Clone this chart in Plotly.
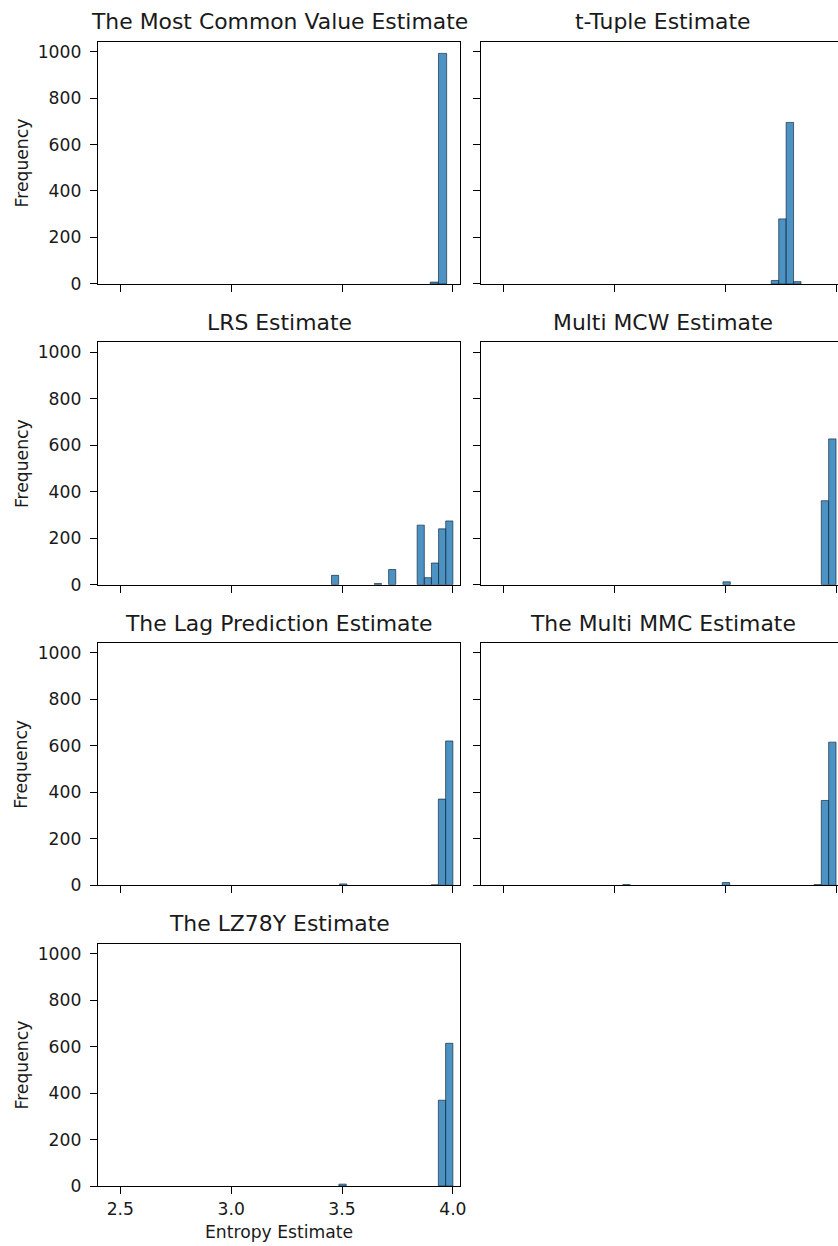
import plotly.graph_objects as go

# ---------------- data ----------------
titles = [
    "The Most Common Value Estimate",
    "t-Tuple Estimate",
    "LRS Estimate",
    "Multi MCW Estimate",
    "The Lag Prediction Estimate",
    "The Multi MMC Estimate",
    "The LZ78Y Estimate",
]

# bin left edges, counts and bin width for each panel
mcv_left = [3.898, 3.935]
mcv_counts = [8, 992]
mcv_width = 0.037

ttuple_left = [3.708, 3.7415, 3.775, 3.8085]
ttuple_counts = [15, 280, 695, 10]
ttuple_width = 0.0335

lrs_left = [3.4526, 3.6458, 3.7102, 3.8390, 3.8712, 3.9034, 3.9356, 3.9678]
lrs_counts = [40, 5, 65, 256, 30, 93, 240, 274]
lrs_width = 0.0322

mcw_left = [3.490, 3.9336, 3.9668]
mcw_counts = [12, 361, 627]
mcw_width = 0.0332

lag_left = [3.489, 3.9019, 3.9346, 3.9673]
lag_counts = [6, 2, 371, 621]
lag_width = 0.0327

mmc_left = [3.038, 3.487, 3.9004, 3.9336, 3.9668]
mmc_counts = [3, 12, 3, 365, 616]
mmc_width = 0.0332

lz_left = [3.486, 3.9346, 3.9673]
lz_counts = [8, 369, 614]
lz_width = 0.0327

x_ticks = [2.5, 3.0, 3.5, 4.0]
x_ticktext = ["2.5", "3.0", "3.5", "4.0"]
y_ticks = [0, 200, 400, 600, 800, 1000]

panels = [
    (mcv_left, mcv_counts, mcv_width),
    (ttuple_left, ttuple_counts, ttuple_width),
    (lrs_left, lrs_counts, lrs_width),
    (mcw_left, mcw_counts, mcw_width),
    (lag_left, lag_counts, lag_width),
    (mmc_left, mmc_counts, mmc_width),
    (lz_left, lz_counts, lz_width),
]

# ---------------- layout geometry ----------------
REF_W, REF_H = 838, 1246      # reference picture size (positions below are in its pixels)
W, H = 846, 1258              # figure size
FONT = "DejaVu Sans"
TXT = "#1a1a1a"

col_px = [(97.7, 459.3), (480.3, 838.0)]
col_range = [[2.399, 4.034], [2.4005, 4.018]]
title_cx = [278.5, 661.0]
row_top0, row_bot0, pitch = 41.7, 283.5, 300.2


def px_x(p):
    return p / REF_W


def px_y(p):
    return 1 - p / REF_H


fig = go.Figure()
layout = dict(
    width=W, height=H,
    margin=dict(l=0, r=0, t=0, b=0),
    paper_bgcolor="white", plot_bgcolor="white",
    showlegend=False,
    font=dict(family=FONT, size=17, color=TXT),
    annotations=[],
)

for i, (lefts, counts, w) in enumerate(panels):
    r, c = divmod(i, 2)
    n = i + 1
    xs = "" if n == 1 else str(n)
    fig.add_trace(go.Bar(
        x=lefts, y=counts, width=w, offset=0,
        marker=dict(color="rgba(31,119,180,0.8)",
                    line=dict(color="rgba(20,40,60,0.85)", width=0.8)),
        xaxis="x" + xs, yaxis="y" + xs,
        hoverinfo="x+y",
    ))
    top = row_top0 + pitch * r
    bot = row_bot0 + pitch * r
    x0, x1 = col_px[c]
    bottom_row = (r == 3)
    layout["xaxis" + xs] = dict(
        domain=[px_x(x0), min(1.0, px_x(x1))], anchor="y" + xs,
        range=col_range[c],
        tickvals=x_ticks, ticktext=x_ticktext,
        showticklabels=bottom_row,
        ticks="outside", ticklen=7, tickwidth=1.2, tickcolor="black",
        showline=True, linecolor="black", linewidth=1.2, mirror=True,
        showgrid=False, zeroline=False,
        tickfont=dict(family=FONT, size=17.2, color=TXT),
        fixedrange=True,
    )
    layout["yaxis" + xs] = dict(
        domain=[px_y(bot), px_y(top)], anchor="x" + xs,
        range=[0, 1042],
        tickvals=y_ticks,
        showticklabels=(c == 0),
        ticks="outside", ticklen=7, tickwidth=1.2, tickcolor="black",
        ticklabelstandoff=5,
        showline=True, linecolor="black", linewidth=1.2, mirror=(c == 0),
        showgrid=False, zeroline=False,
        tickfont=dict(family=FONT, size=17.2, color=TXT),
        fixedrange=True,
    )
    # title
    layout["annotations"].append(dict(
        text=titles[i], xref="paper", yref="paper",
        x=px_x(title_cx[c]), y=px_y(top - 20),
        xanchor="center", yanchor="middle", showarrow=False,
        font=dict(family=FONT, size=21.9, color=TXT),
    ))
    if c == 0:
        layout["annotations"].append(dict(
            text="Frequency", xref="paper", yref="paper",
            x=px_x(21.5), y=px_y((top + bot) / 2),
            xanchor="center", yanchor="middle", textangle=-90,
            showarrow=False, font=dict(family=FONT, size=17.2, color=TXT),
        ))
    if bottom_row:
        layout["annotations"].append(dict(
            text="Entropy Estimate", xref="paper", yref="paper",
            x=px_x(278.5), y=px_y(1230),
            xanchor="center", yanchor="middle", showarrow=False,
            font=dict(family=FONT, size=17.2, color=TXT),
        ))

fig.update_layout(**layout)

# remove the default 8px page margin so the figure starts at the window corner
page_fix = (
    "document.documentElement.style.margin='0';"
    "document.documentElement.style.overflow='hidden';"
    "document.body.style.margin='0';"
    "document.body.style.overflow='hidden';"
    "var gd=document.getElementById('{plot_id}');gd.style.display='block';"
)
fig.write_html("out.html", config={"displayModeBar": False}, post_script=page_fix)
